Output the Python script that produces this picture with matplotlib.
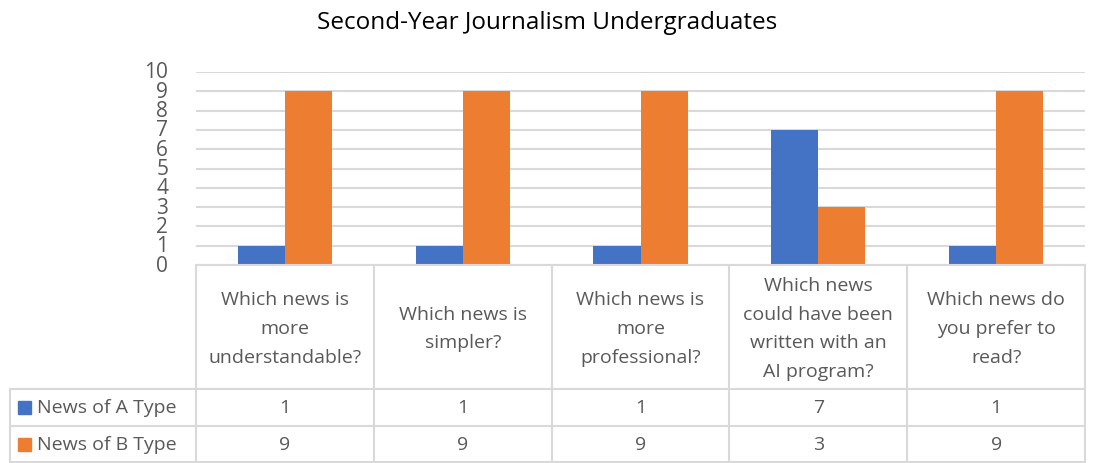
import numpy as np
import matplotlib.pyplot as plt
from matplotlib.patches import Rectangle

# Survey answers of second-year journalism students
questions = [
    "Which news is\nmore\nunderstandable?",
    "Which news is\nsimpler?",
    "Which news is\nmore\nprofessional?",
    "Which news\ncould have been\nwritten with an\nAI program?",
    "Which news do\nyou prefer to\nread?",
]
series_names = ["News of A Type", "News of B Type"]
type_a = [1, 1, 1, 7, 1]
type_b = [9, 9, 9, 3, 9]
colors = ["#4472C4", "#ED7D31"]
text_color = "#595959"
grid_color = "#D9D9D9"

W, H = 1094, 464
plt.rcParams['font.family'] = ['Open Sans', 'DejaVu Sans']
fig = plt.figure(figsize=(W / 100, H / 100), dpi=100)

# pixel layout
left, right = 196, 1085
y0, y10 = 266, 73
hdr_bottom, row_a_bottom, row_b_bottom = 390, 427, 464
legend_left = 10

ax = fig.add_axes([left / W, 1 - y0 / H, (right - left) / W, (y0 - y10) / H])
x = np.arange(len(questions))
bw = 0.265
ax.bar(x - bw / 2, type_a, bw, color=colors[0], zorder=3)
ax.bar(x + bw / 2, type_b, bw, color=colors[1], zorder=3)
ax.set_xlim(-0.5, len(questions) - 0.5)
ax.set_ylim(0, 10)
ax.set_yticks(range(0, 11))
ax.tick_params(axis='y', length=0, labelsize=15, labelcolor=text_color, pad=20)
ax.set_xticks([])
ax.grid(axis='y', color=grid_color, linewidth=1.5, zorder=0)
for s in ax.spines.values():
    s.set_visible(False)
ax.set_yticklabels([str(v) for v in range(0, 11)], va='center')

fig.text(0.5, 1 - 23 / H, "Second-Year Journalism Undergraduates",
         ha='center', va='center', fontsize=17.5, color='black')

# data table drawn in pixel coordinates
tax = fig.add_axes([0, 0, 1, 1])
tax.set_xlim(0, W)
tax.set_ylim(H, 0)
tax.axis('off')
cw = (right - left) / len(questions)
lc = dict(color=grid_color, linewidth=1.5)
tax.plot([left, right], [y0, y0], **lc)
tax.plot([legend_left, right], [hdr_bottom, hdr_bottom], **lc)
tax.plot([legend_left, right], [row_a_bottom, row_a_bottom], **lc)
tax.plot([legend_left, right], [row_b_bottom - 1, row_b_bottom - 1], **lc)
tax.plot([legend_left, legend_left], [hdr_bottom, row_b_bottom], **lc)
for i in range(len(questions) + 1):
    xb = left + i * cw
    tax.plot([xb, xb], [y0, row_b_bottom], **lc)

fs = 14
for i, q in enumerate(questions):
    cx = left + (i + 0.5) * cw
    tax.text(cx, (y0 + hdr_bottom) / 2 + 1, q, ha='center', va='center',
             fontsize=fs, color=text_color, linespacing=1.78)
    tax.text(cx, (hdr_bottom + row_a_bottom) / 2, str(type_a[i]),
             ha='center', va='center', fontsize=fs, color=text_color)
    tax.text(cx, (row_a_bottom + row_b_bottom) / 2, str(type_b[i]),
             ha='center', va='center', fontsize=fs, color=text_color)

rows = [(hdr_bottom + row_a_bottom) / 2, (row_a_bottom + row_b_bottom) / 2]
for name, col, ry in zip(series_names, colors, rows):
    tax.add_patch(Rectangle((18, ry - 7), 13, 13, color=col))
    tax.text(37, ry, name, ha='left', va='center', fontsize=fs, color=text_color)

fig.savefig("out.png", dpi=100, facecolor='white')
